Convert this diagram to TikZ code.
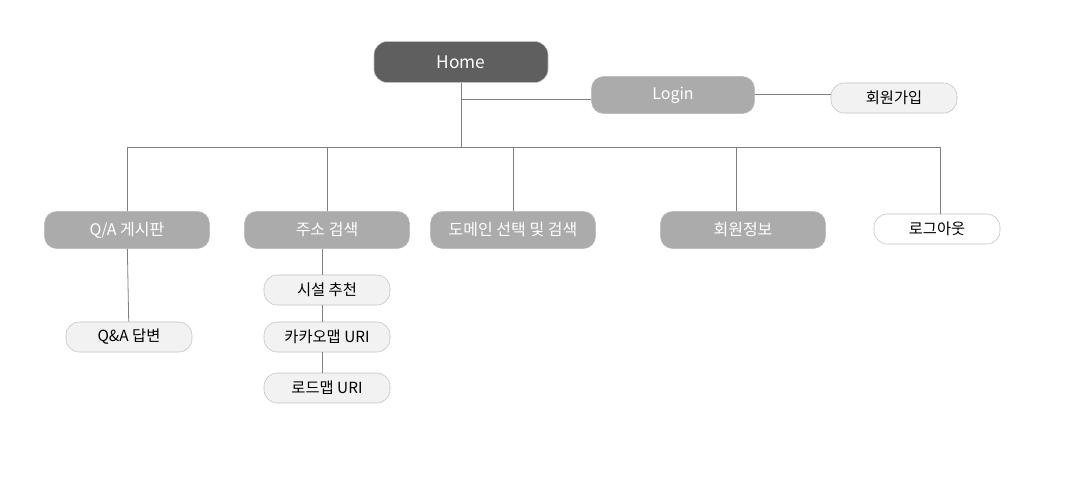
\documentclass[tikz,border=0pt]{standalone}
\usepackage{fontspec}
\setmainfont{Noto Sans CJK KR}
\usepackage{tikz}
\usetikzlibrary{positioning}

\definecolor{homegray}{HTML}{5F5F5F}
\definecolor{menugray}{HTML}{ABABAB}
\definecolor{subgray}{HTML}{F2F2F2}
\definecolor{rimgray}{HTML}{BFBFBF}
\definecolor{linegray}{HTML}{808080}

\begin{document}
\begin{tikzpicture}[x=0.75pt, y=-0.75pt]
	\tikzstyle{home}=[rectangle, rounded corners=10pt, draw=rimgray, fill=homegray,
	                  text=white, font=\fontsize{13}{15}\selectfont,
	                  minimum width=130.5pt, minimum height=30.75pt, inner sep=0pt];
	\tikzstyle{menu}=[rectangle, rounded corners=9pt, draw=rimgray, fill=menugray,
	                  text=white, font=\fontsize{12}{14}\selectfont,
	                  minimum width=123.75pt, minimum height=27.75pt, inner sep=0pt];
	\tikzstyle{sub}=[rectangle, rounded corners=10pt, draw=rimgray, fill=subgray,
	                 font=\fontsize{11.5}{13}\selectfont,
	                 minimum width=94.5pt, minimum height=22.5pt, inner sep=0pt];
	\tikzstyle{leaf}=[sub, fill=white];
	\tikzstyle{link}=[draw=linegray, line width=0.6pt];
	\useasboundingbox (0,0) rectangle (1068,476);
	% top
	\node[home] (home) at (461,62) {Home};
	\node[menu, minimum width=122.25pt] (login) at (673,95) {Login};
	\node[sub] (join) at (894,98) {회원가입};
	% main menu
	\node[menu] (qa) at (127,230) {Q/A 게시판};
	\node[menu] (addr) at (327,230) {주소 검색};
	\node[menu] (domain) at (513,230) {도메인 선택 및 검색};
	\node[menu] (info) at (743,230) {회원정보};
	\node[leaf] (logout) at (937,229) {로그아웃};
	% children
	\node[sub] (answer) at (129,337) {Q\&A 답변};
	\node[sub] (place) at (327,290) {시설 추천};
	\node[sub] (kakao) at (327,337) {카카오맵 URI};
	\node[sub] (road) at (327,388) {로드맵 URI};
	\coordinate (bus) at (461,147);
	\coordinate (tee) at (461,99);
	\draw[link] (home) -- (bus);
	\draw[link] (tee) -- (login.west |- tee);
	\draw[link] (login.east |- 0,94) -- (join.west |- 0,94);
	\draw[link] (qa.north |- bus) -- (bus -| 940,0);
	\foreach \n/\x in {qa/127, addr/327, domain/513, info/736, logout/940}
	{\draw[link] (\x,147) -- (\n.north -| \x,0);}
	\draw[link] (qa) -- (answer);
	\draw[link] (addr.south -| 322,0) -- (place.north -| 322,0);
	\draw[link] (place.south -| 322,0) -- (kakao.north -| 322,0);
	\draw[link] (kakao.south -| 322,0) -- (road.north -| 322,0);
\end{tikzpicture}
\end{document}
